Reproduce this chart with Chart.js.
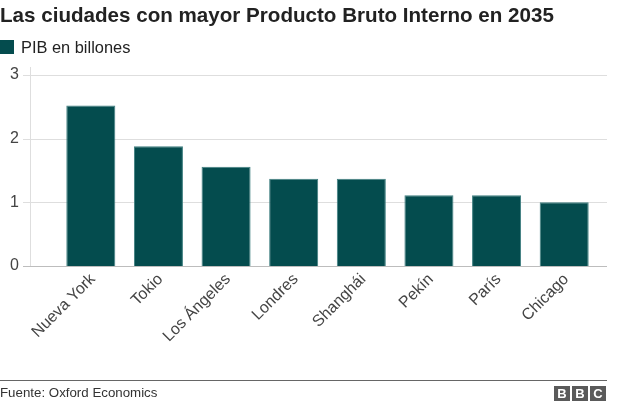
<!DOCTYPE html>
<html lang="es">
<head>
<meta charset="utf-8">
<script src="https://cdn.jsdelivr.net/npm/chart.js@4"></script>
<style>
  body { margin: 0; background: #fff; font-family: Arial, "Liberation Sans", Helvetica, sans-serif; }
  #wrap { position: relative; width: 640px; height: 405px; overflow: hidden; }
  #titulo { position: absolute; left: 0; top: 3px; margin: 0; font-size: 20.6px; font-weight: bold; color: #222; white-space: nowrap; }
  #leyenda { position: absolute; left: 0; top: 38px; font-size: 16.4px; color: #222; line-height: 18px; }
  #leyenda span { display: inline-block; width: 14px; height: 14px; background: #044c4e; vertical-align: -1px; margin-right: 7px; }
  #pie { position: absolute; left: 0; top: 380px; width: 607px; border-top: 1px solid #666; }
  #fuente { position: absolute; left: 0; top: 385px; font-size: 13.3px; color: #333; }
  #bbc { position: absolute; left: 554px; top: 386px; display: flex; gap: 2px; }
  #bbc b { width: 16px; height: 15px; background: #5a5a5a; color: #fff; font-size: 13px; line-height: 15px; text-align: center; }
  canvas { position: absolute; left: 0; top: 0; }
</style>
</head>
<body>
<div id="wrap">
  <canvas id="grafico" width="640" height="405"></canvas>
  <h1 id="titulo">Las ciudades con mayor Producto Bruto Interno en 2035</h1>
  <div id="leyenda"><span></span>PIB en billones</div>
  <div id="pie"></div>
  <div id="fuente">Fuente: Oxford Economics</div>
  <div id="bbc"><b>B</b><b>B</b><b>C</b></div>
</div>
<script>
// Datos
const ciudades = ['Nueva York', 'Tokio', 'Los Ángeles', 'Londres', 'Shanghái', 'Pekín', 'París', 'Chicago'];
const pib = [2.52, 1.88, 1.56, 1.37, 1.37, 1.11, 1.11, 1.0];
const marcasY = [0, 1, 2, 3];

// Líneas de la cuadrícula más anchas que el área de las barras
const cuadricula = {
  id: 'cuadricula',
  beforeDatasetsDraw(chart) {
    const ctx = chart.ctx;
    const y = chart.scales.y;
    ctx.save();
    ctx.lineWidth = 1;
    marcasY.forEach(v => {
      const py = Math.round(y.getPixelForValue(v)) + 0.5;
      ctx.strokeStyle = v === 0 ? '#bdbdbd' : '#dedede';
      ctx.beginPath();
      ctx.moveTo(23, py);
      ctx.lineTo(607, py);
      ctx.stroke();
    });
    ctx.strokeStyle = '#dedede';
    ctx.beginPath();
    ctx.moveTo(30.5, y.getPixelForValue(3) - 8);
    ctx.lineTo(30.5, y.getPixelForValue(0));
    ctx.stroke();
    ctx.restore();
  }
};

const ctx = document.getElementById('grafico').getContext('2d');
new Chart(ctx, {
  type: 'bar',
  data: {
    labels: ciudades,
    datasets: [{
      label: 'PIB en billones',
      data: pib,
      backgroundColor: '#044c4e',
      borderColor: '#3f7f80',
      borderWidth: 1,
      barPercentage: 0.725,
      categoryPercentage: 1
    }]
  },
  options: {
    responsive: false,
    animation: false,
    layout: { padding: { top: 75, right: 42, bottom: 39, left: 0 } },
    plugins: {
      legend: { display: false },
      tooltip: { enabled: false }
    },
    scales: {
      x: {
        grid: { display: false },
        border: { display: false },
        ticks: {
          minRotation: 45,
          maxRotation: 45,
          padding: -4,
          labelOffset: 2,
          color: '#444',
          font: { family: 'Arial, "Liberation Sans", sans-serif', size: 16 }
        },
        afterFit(scale) { scale.height = 100; }
      },
      y: {
        min: 0,
        max: 3,
        grid: { display: false },
        border: { display: false },
        ticks: {
          stepSize: 1,
          padding: 30,
          color: '#444',
          font: { family: 'Arial, "Liberation Sans", sans-serif', size: 16 }
        },
        afterFit(scale) { scale.width = 57; }
      }
    }
  },
  plugins: [cuadricula]
});
</script>
</body>
</html>
